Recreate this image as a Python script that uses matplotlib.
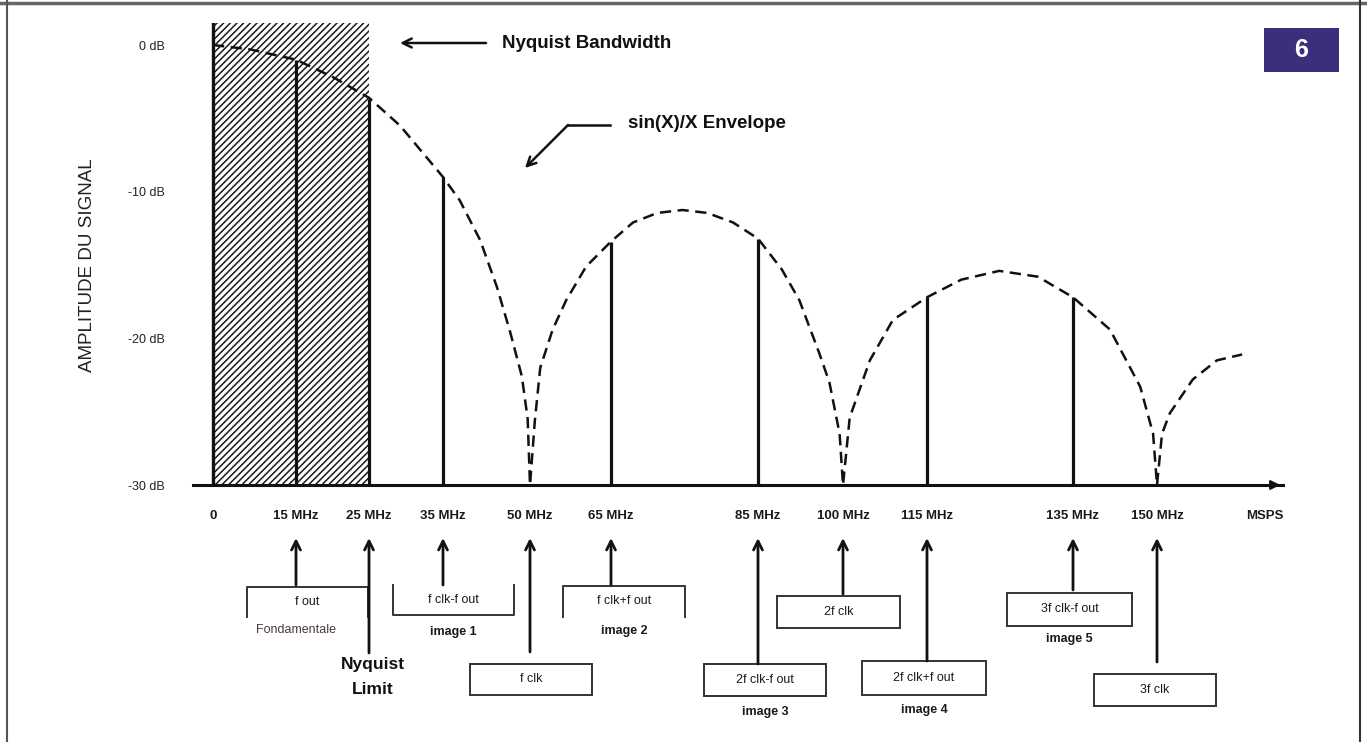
import numpy as np
import matplotlib
matplotlib.use('Agg')
import matplotlib.pyplot as plt
from matplotlib.patches import Rectangle
from matplotlib.transforms import blended_transform_factory

# --- data ---
freqs_mhz = [0, 15, 25, 35, 50, 65, 85, 100, 115, 135, 150]
freq_labels = ['0', '15 MHz', '25 MHz', '35 MHz', '50 MHz', '65 MHz',
               '85 MHz', '100 MHz', '115 MHz', '135 MHz', '150 MHz']
nyquist_mhz = 25
unit_mhz = 169.3

# spectral lines (MHz, dB)
line_mhz = [15, 25, 35, 65, 85, 115, 135]
line_db = [-1.0, -3.7, -9.0, -13.4, -13.2, -17.2, -17.2]

# sin(x)/x envelope, dB
env_mhz = [0, 6.7, 15, 20.1, 25, 29.2, 35, 37.9, 41.4, 44.3, 46.6, 48.6, 49.6, 50,
           50.9, 51.9, 54.2, 56.7, 60.4, 65, 68, 71.3, 74.7, 78.1, 81.6, 85, 89.2,
           92.3, 95.8, 97.6, 99.4, 100,
           101.2, 104.8, 108.9, 115, 119.7, 124.9, 130.2, 135, 141.6, 147, 149.3, 150,
           150.9, 152.3, 156.4, 160.7, 165.2]
env_db = [0.0, -0.3, -1.0, -2.2, -3.6, -5.5, -9.0, -10.6, -13.3, -16.5, -19.6, -22.6, -25.5, -30,
          -25.6, -22.0, -19.4, -17.4, -15.1, -13.4, -12.1, -11.45, -11.25, -11.45, -12.1, -13.2, -15.3,
          -17.4, -21.0, -23.0, -26.5, -30,
          -25.4, -21.5, -18.75, -17.2, -16.0, -15.4, -15.8, -17.2, -19.4, -23.3, -26.5, -30,
          -26.5, -25.1, -22.8, -21.5, -21.1]

db_ticks = [0, -10, -20, -30]
db_labels = ['0 dB', '-10 dB', '-20 dB', '-30 dB']

# annotation arrows under the axis
ann_freqs = [15, 25, 35, 50, 65, 85, 100, 115, 135, 150]

# --- layout (pixel positions of the schematic, not data) ---
W, H = 1367, 742
knot_mhz = [-10, 0, 15, 25, 35, 50, 65, 85, 100, 115, 135, 150, 200]
knot_px = [157.7, 213, 296, 369, 443, 530, 611, 758, 843, 927, 1073, 1157, 1437]
arrow_bottom = [585, 653, 585, 652, 585, 664, 594, 661, 590, 662]
arrow_tip = 538

# boxes: text, x0, x1, y0, y1, style, caption, caption_y
boxes = [
    ('f out', 247, 368, 587, 617, 'open_bottom', 'Fondamentale', 630),
    ('f clk-f out', 393, 514, 585, 615, 'open_top', 'image 1', 632),
    ('f clk', 470, 592, 664, 695, 'full', None, None),
    ('f clk+f out', 563, 685, 586, 617, 'open_bottom', 'image 2', 631),
    ('2f clk-f out', 704, 826, 664, 696, 'full', 'image 3', 712),
    ('2f clk', 777, 900, 596, 628, 'full', None, None),
    ('2f clk+f out', 862, 986, 661, 695, 'full', 'image 4', 710),
    ('3f clk-f out', 1007, 1132, 593, 626, 'full', 'image 5', 639),
    ('3f clk', 1094, 1216, 674, 706, 'full', None, None),
]

INK = '#111111'
plt.rcParams['font.family'] = ['Liberation Sans', 'DejaVu Sans']
plt.rcParams['hatch.linewidth'] = 1.1

fig = plt.figure(figsize=(W / 100, H / 100), dpi=100)
fig.patch.set_facecolor('white')


def fwd(x):
    return np.interp(x, knot_mhz, knot_px)


def inv(x):
    return np.interp(x, knot_px, knot_mhz)


ax_left, ax_right, ax_top, ax_bot = 193, 1283, 23, 485
ax = fig.add_axes([ax_left / W, 1 - ax_bot / H, (ax_right - ax_left) / W, (ax_bot - ax_top) / H])
ax.set_xscale('function', functions=(fwd, inv))
ax.set_xlim(inv(ax_left), inv(ax_right))
ax.set_ylim(-30, 1.5)
ax.patch.set_alpha(0)
for s in ['top', 'right', 'left']:
    ax.spines[s].set_visible(False)
ax.spines['bottom'].set_linewidth(2.2)
ax.spines['bottom'].set_color(INK)

# Nyquist band
ax.axvspan(0, nyquist_mhz, facecolor='white', edgecolor='#1a1a1a', hatch='/////', lw=0)
ax.axvline(0, color=INK, lw=2.4)

# spectral lines and envelope
ax.vlines(line_mhz, -30, line_db, color=INK, lw=2.3, zorder=3)
ax.plot(env_mhz, env_db, color=INK, lw=1.8, ls=(0, (4.5, 2.6)), zorder=4)

ax.set_xticks(freqs_mhz, freq_labels, fontsize=9.5, fontweight='bold', color='#1a1a1a')
ax.set_yticks(db_ticks, db_labels, fontsize=9, color='#222222')
ax.tick_params(axis='x', length=0, pad=18)
ax.tick_params(axis='y', length=0, pad=20)
ax.annotate('', xy=(1.0, 0), xycoords='axes fraction', xytext=(0.985, 0),
            arrowprops=dict(arrowstyle='-|>', color=INK, lw=1.5, mutation_scale=14))

# overlay in pixel coords for the labels drawn around the chart
ov = fig.add_axes([0, 0, 1, 1])
ov.set_xlim(0, W)
ov.set_ylim(H, 0)
ov.axis('off')
ov.patch.set_alpha(0)
tr = blended_transform_factory(ax.transData, ov.transData)

ov.text(unit_mhz, 516, 'MSPS', transform=tr, ha='center', va='center', fontsize=9.5,
        fontweight='bold', color='#1a1a1a')

for f, yb in zip(ann_freqs, arrow_bottom):
    ov.annotate('', xy=(f, arrow_tip), xycoords=tr, xytext=(f, yb), textcoords=tr,
                arrowprops=dict(arrowstyle='->', color=INK, lw=2.0, mutation_scale=16,
                                shrinkA=0, shrinkB=0))

for txt, x0, x1, y0, y1, style, cap, cap_y in boxes:
    kw = dict(color='#333333', lw=1.4)
    if style == 'full':
        ov.add_patch(Rectangle((x0, y0), x1 - x0, y1 - y0, fill=False, ec='#333333', lw=1.4))
    elif style == 'open_bottom':
        ov.plot([x0, x0, x1, x1], [y1, y0, y0, y1], **kw)
    else:
        ov.plot([x0, x0, x1, x1], [y0, y1, y1, y0], **kw)
    ov.text((x0 + x1) / 2, (y0 + y1) / 2, txt, ha='center', va='center', fontsize=9, color='#1a1a1a')
    if cap:
        if cap == 'Fondamentale':
            ov.text(296, cap_y, cap, ha='center', va='center', fontsize=9, color='#4d3b3b')
        else:
            ov.text((x0 + x1) / 2, cap_y, cap, ha='center', va='center', fontsize=9,
                    fontweight='bold', color='#1a1a1a')

ov.text(373, 665, 'Nyquist', ha='center', va='center', fontsize=12.5, fontweight='bold', color=INK)
ov.text(373, 690, 'Limit', ha='center', va='center', fontsize=12.5, fontweight='bold', color=INK)

# callouts
ov.text(502, 43, 'Nyquist Bandwidth', ha='left', va='center', fontsize=13.5, fontweight='bold', color=INK)
ov.annotate('', xy=(400, 43), xytext=(486, 43),
            arrowprops=dict(arrowstyle='->', color=INK, lw=1.8, mutation_scale=16, shrinkA=0, shrinkB=0))
ov.text(628, 123, 'sin(X)/X Envelope', ha='left', va='center', fontsize=13.5, fontweight='bold', color=INK)
ov.plot([610, 568], [125, 125], color=INK, lw=1.8)
ov.annotate('', xy=(525, 168), xytext=(568, 125),
            arrowprops=dict(arrowstyle='->', color=INK, lw=1.8, mutation_scale=16, shrinkA=0, shrinkB=0))

ov.text(88, 265, 'AMPLITUDE DU SIGNAL', rotation=90, ha='center', va='center', fontsize=13.5, color='#222222')

# figure number badge
ov.add_patch(Rectangle((1264, 28), 75, 44, facecolor='#3b2f7d', edgecolor='none'))
ov.text(1301.5, 50, '6', ha='center', va='center', fontsize=18, fontweight='bold', color='white')

# scan frame
ov.plot([0, W], [3, 3], color='#666666', lw=2.5)
ov.plot([7, 7], [0, H], color='#555555', lw=1.5)
ov.plot([1360, 1360], [0, H], color='#333333', lw=1.5)

fig.savefig('out.png', dpi=100, facecolor='white')
